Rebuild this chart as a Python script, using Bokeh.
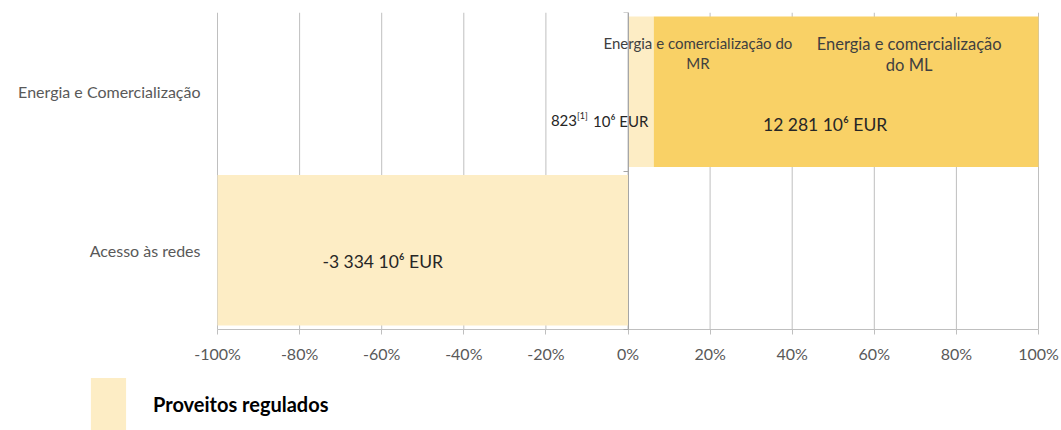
from bokeh.plotting import figure
from bokeh.models import (Range1d, ColumnDataSource, FixedTicker, Legend, LegendItem,
                          LinearAxis)
from bokeh.core.properties import value
from bokeh.embed import file_html
from bokeh.resources import INLINE

# ---- data ----
categories = ["Acesso às redes", "Energia e Comercialização"]
cat_pos = [0.5, 1.5]
mr_value = 823          # 10^6 EUR, energia e comercialização do MR
ml_value = 12281        # 10^6 EUR, energia e comercialização do ML
acesso_value = -3334    # 10^6 EUR, acesso às redes
x_ticks = [-100, -80, -60, -40, -20, 0, 20, 40, 60, 80, 100]
x_tick_labels = ["-100%", "-80%", "-60%", "-40%", "-20%", "0%", "20%", "40%", "60%", "80%", "100%"]
segment_names = ["Energia e comercialização do\nMR", "Energia e comercialização\ndo ML"]
legend_label = "Proveitos regulados"
unit = " 10⁶ EUR"

LIGHT = "#FDEDC5"
DARK = "#F9D166"
GRID = "#BFBFBF"
AXIS0 = "#A6A6A6"

energy_total = mr_value + ml_value
mr_share = mr_value / energy_total * 100
ml_share = ml_value / energy_total * 100
acesso_share = -100.0


def fmt(v):
    return f"{v:,}".replace(",", " ")


# ---- layout (pixels) ----
W, H = 1061, 430
PLOT_L, PLOT_R = 217, 1038          # -100% .. 100%
PLOT_T, PLOT_B = 12, 329            # top of categories .. value axis
px_per_x = (PLOT_R - PLOT_L) / (x_ticks[-1] - x_ticks[0])
px_per_y = (PLOT_B - PLOT_T) / len(categories)
x_start = x_ticks[0] - PLOT_L / px_per_x
x_end = x_ticks[-1] + (W - PLOT_R) / px_per_x
y_start = -(H - PLOT_B) / px_per_y

light_src = ColumnDataSource(dict(
    y=[cat_pos[0], cat_pos[1]],
    left=[acesso_share, 0],
    right=[0, mr_share],
))
dark_src = ColumnDataSource(dict(
    y=[cat_pos[1]],
    left=[mr_share],
    right=[mr_share + ml_share],
))

p = figure(width=W, height=H,
           x_range=Range1d(x_start, x_end),
           y_range=Range1d(y_start, len(categories)),
           x_axis_location=None, y_axis_location=None,
           output_backend="svg", toolbar_location=None,
           min_border_left=0, min_border_right=0,
           min_border_top=PLOT_T, min_border_bottom=0)
p.outline_line_color = None
p.background_fill_color = "white"
p.border_fill_color = "white"
p.xgrid.grid_line_color = None
p.ygrid.grid_line_color = None

# vertical gridlines over the category area (drawn first, behind the bars)
p.segment(x0=x_ticks, x1=x_ticks, y0=[0] * len(x_ticks), y1=[len(categories)] * len(x_ticks),
          line_color=GRID, line_width=1)

# bars
light_r = p.hbar(y="y", left="left", right="right", height=0.95, source=light_src,
                 fill_color=LIGHT, line_color=None)
dark_r = p.hbar(y="y", left="left", right="right", height=0.95, source=dark_src,
                fill_color=DARK, line_color=None)

# value axis (percent)
xa = LinearAxis(fixed_location=0, bounds=(x_ticks[0], x_ticks[-1]),
                ticker=FixedTicker(ticks=x_ticks))
xa.major_label_overrides = dict(zip(x_ticks, x_tick_labels))
xa.axis_line_color = GRID
xa.major_tick_line_color = GRID
xa.major_tick_in = 0
xa.major_tick_out = 5
xa.minor_tick_line_color = None
xa.major_label_standoff = 9
xa.major_label_text_font = "Lato"
xa.major_label_text_font_size = "16px"
xa.major_label_text_color = "#595959"
p.add_layout(xa, "below")

# category labels on the left
ya = LinearAxis(fixed_location=x_ticks[0], bounds=(0, len(categories)),
                ticker=FixedTicker(ticks=cat_pos))
ya.major_label_overrides = dict(zip(cat_pos, categories))
ya.axis_line_color = None
ya.major_tick_line_color = None
ya.minor_tick_line_color = None
ya.major_label_standoff = 11
ya.major_label_text_font = "Lato"
ya.major_label_text_font_size = "16px"
ya.major_label_text_color = "#595959"
p.add_layout(ya, "left")

# category axis crossing at 0 with ticks between categories
za = LinearAxis(fixed_location=0, bounds=(0, len(categories)),
                ticker=FixedTicker(ticks=list(range(len(categories) + 1))))
za.major_label_text_alpha = 0
za.axis_line_color = AXIS0
za.major_tick_line_color = AXIS0
za.major_tick_in = 0
za.major_tick_out = 5
za.minor_tick_line_color = None
p.add_layout(za, "left")

FONT = value("Lato")

# segment names
p.text(x=[mr_share / 2], y=[cat_pos[1]], text=[segment_names[0]],
       x_offset=57, y_offset=-39, text_font=FONT, text_font_size="15px",
       text_align="center", text_baseline="middle", text_color="#404040",
       text_line_height=1.1)
p.text(x=[mr_share + ml_share / 2], y=[cat_pos[1]], text=[segment_names[1]],
       x_offset=63, y_offset=-37, text_font=FONT, text_font_size="16.5px",
       text_align="center", text_baseline="middle", text_color="#404040",
       text_line_height=1.05)

# value labels
p.text(x=[mr_share + ml_share / 2], y=[cat_pos[1]], text=[fmt(ml_value) + unit],
       x_offset=-21, y_offset=33, text_font=FONT, text_font_size="17.5px",
       text_align="center", text_baseline="middle", text_color="#262626")
p.text(x=[acesso_share / 2], y=[cat_pos[0]], text=[fmt(acesso_value) + unit],
       x_offset=-40, y_offset=11, text_font=FONT, text_font_size="17.5px",
       text_align="center", text_baseline="middle", text_color="#262626")
# MR value with footnote marker
p.text(x=[0], y=[cat_pos[1]], text=[fmt(mr_value)],
       x_offset=-51, y_offset=29, text_font=FONT, text_font_size="15px",
       text_align="right", text_baseline="middle", text_color="#262626")
p.text(x=[0], y=[cat_pos[1]], text=["[1]"],
       x_offset=-51, y_offset=24, text_font=FONT, text_font_size="9px",
       text_align="left", text_baseline="middle", text_color="#262626")
p.text(x=[0], y=[cat_pos[1]], text=[unit.strip()],
       x_offset=-35, y_offset=29, text_font=FONT, text_font_size="15px",
       text_align="left", text_baseline="middle", text_color="#262626")

# legend below the value axis
legend = Legend(items=[LegendItem(label=legend_label, renderers=[light_r])],
                location=(86, -6), orientation="vertical",
                glyph_width=44, glyph_height=65, label_standoff=23,
                padding=0, margin=0, spacing=0,
                border_line_color=None, background_fill_alpha=0,
                label_text_font="Lato", label_text_font_style="bold",
                label_text_font_size="20px", label_text_color="#000000")
p.add_layout(legend)

open("out.html", "w").write(file_html(p, INLINE))
